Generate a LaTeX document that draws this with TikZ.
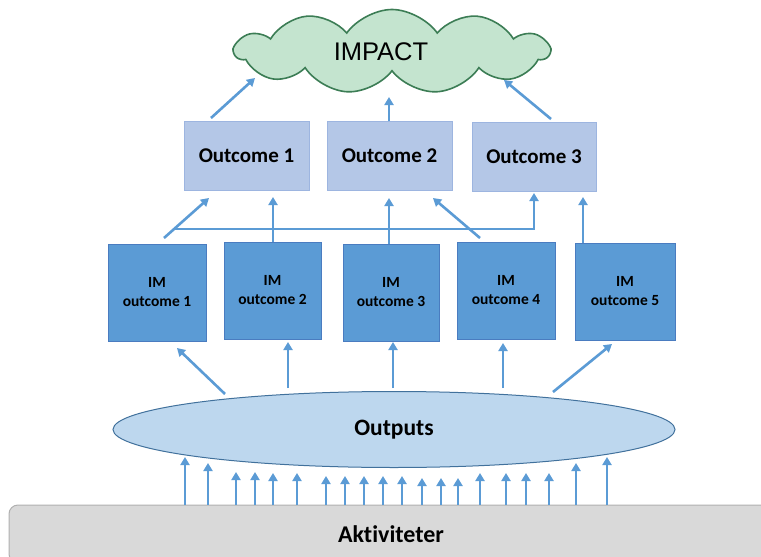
\documentclass[tikz,border=0pt]{standalone}
\usepackage{fontspec}
\setmainfont[Ligatures={NoCommon}]{Carlito}
\newfontfamily\arialfont{Liberation Sans}
\usetikzlibrary{arrows.meta,shapes.geometric,shapes.symbols}
\definecolor{arrowblue}{HTML}{5B9BD5}
\definecolor{imfill}{HTML}{5B9BD5}
\definecolor{imborder}{HTML}{4A7CC0}
\definecolor{outfill}{HTML}{B4C7E7}
\definecolor{outborder}{HTML}{9DB5E0}
\definecolor{ellfill}{HTML}{BDD7EE}
\definecolor{ellborder}{HTML}{41719C}
\definecolor{cloudfill}{HTML}{C4E4CF}
\definecolor{cloudborder}{HTML}{3C7D55}
\definecolor{aktfill}{HTML}{D9D9D9}
\definecolor{aktborder}{HTML}{B0B0B0}
\tikzset{
  arr/.style={draw=arrowblue, line width=2.6pt, -{Triangle[length=8pt,width=9pt]}},
  imbox/.style={rectangle, draw=imborder, fill=imfill, line width=1pt, align=center,
    font=\fontsize{15.5}{19}\selectfont\bfseries, inner sep=0pt, minimum height=97pt},
  outbox/.style={rectangle, draw=outborder, fill=outfill, line width=1pt,
    font=\fontsize{21}{25}\selectfont\bfseries, inner sep=0pt, minimum height=69pt},
  impactcloud/.style={cloud, cloud puffs=11, cloud puff arc=110, aspect=3.4,
    draw=cloudborder, fill=cloudfill, line width=1.6pt, inner sep=0pt,
    minimum width=314pt, minimum height=84pt, font=\arialfont\fontsize{25.5}{30}\selectfont},
  outputsell/.style={ellipse, draw=ellborder, fill=ellfill, line width=1pt, inner sep=0pt,
    minimum width=562pt, minimum height=76pt, font=\fontsize{23.5}{28}\selectfont\bfseries},
  aktbox/.style={rectangle, rounded corners=9pt, draw=aktborder, fill=aktfill, line width=1pt,
    minimum width=764pt, minimum height=58pt, font=\fontsize{24}{28}\selectfont\bfseries}
}
\begin{document}
\begin{tikzpicture}[x=1pt,y=-1pt]
\clip (0,0) rectangle (761,557);
\useasboundingbox (0,0) rectangle (761,557);
\fill[white] (0,0) rectangle (761,557);

% Impact cloud
\node[impactcloud] (impact) at (392,51.5) {\hspace*{-22pt}IMPACT};

% Outcomes
\node[outbox, minimum width=125pt] (o1) at (246.5,155.5) {Outcome 1};
\node[outbox, minimum width=125pt] (o2) at (389.5,155.5) {Outcome 2};
\node[outbox, minimum width=124pt] (o3) at (534,156.5) {Outcome 3};

% IM outcomes
\node[imbox, minimum width=98pt] (im1) at (157,292.5) {IM\\outcome 1};
\node[imbox, minimum width=97pt] (im2) at (272.5,290.5) {IM\\outcome 2};
\node[imbox, minimum width=96pt] (im3) at (391,292.5) {IM\\outcome 3};
\node[imbox, minimum width=98pt] (im4) at (506,290.5) {IM\\outcome 4};
\node[imbox, minimum width=100pt] (im5) at (625,291.5) {IM\\outcome 5};

% Outputs
\node[outputsell] (outputs) at (394,429.5) {Outputs};

% Aktiviteter
\node[aktbox] (akt) at (391,534) {Aktiviteter};

% Outcomes -> Impact
\coordinate (c1s) at (211,118); \coordinate (c1e) at (255,78);
\coordinate (c2s) at (389,121); \coordinate (c2e) at (389,97);
\coordinate (c3s) at (551,119); \coordinate (c3e) at (504,80);
\draw[arr] (c1s) -- (c1e);
\draw[arr] (c2s) -- (c2e);
\draw[arr] (c3s) -- (c3e);

% IM -> Outcomes
\coordinate (m1s) at (164,238); \coordinate (m1e) at (209,198);
\coordinate (hs) at (175,229); \coordinate (hc) at (534,229); \coordinate (he) at (534,193);
\coordinate (m2e) at (273,197);
\coordinate (m3e) at (389,198);
\coordinate (m4s) at (480,238); \coordinate (m4e) at (433,198);
\coordinate (m5e) at (583,197);
\draw[arr] (m1s) -- (m1e);
\draw[arr] (hs) -- (hc) -- (he);
\draw[arr] (im2.north -| m2e) -- (m2e);
\draw[arr] (im3.north -| m3e) -- (m3e);
\draw[arr] (m4s) -- (m4e);
\draw[arr] (im5.north -| m5e) -- (m5e);

% Outputs -> IM
\coordinate (p1s) at (225,394); \coordinate (p1e) at (177,348);
\coordinate (p2s) at (288,388); \coordinate (p2e) at (288,342);
\coordinate (p3s) at (393,388); \coordinate (p3e) at (393,342);
\coordinate (p4s) at (503,388); \coordinate (p4e) at (503,343);
\coordinate (p5s) at (553,392); \coordinate (p5e) at (612,344);
\draw[arr] (p1s) -- (p1e);
\draw[arr] (p2s) -- (p2e);
\draw[arr] (p3s) -- (p3e);
\draw[arr] (p4s) -- (p4e);
\draw[arr] (p5s) -- (p5e);

% Aktiviteter -> Outputs
\foreach \xx/\tt in {185/457, 208/463, 236/472, 255/472, 273/473, 297/473,
  326/476, 345/476, 364/476, 383/476, 402/476, 422/478, 441/478, 458/478,
  480/473, 506/473, 526/473, 549/473, 576/463, 607/457}
  \draw[arr] (\xx,0 |- akt.north) -- (\xx,\tt);
\end{tikzpicture}
\end{document}
